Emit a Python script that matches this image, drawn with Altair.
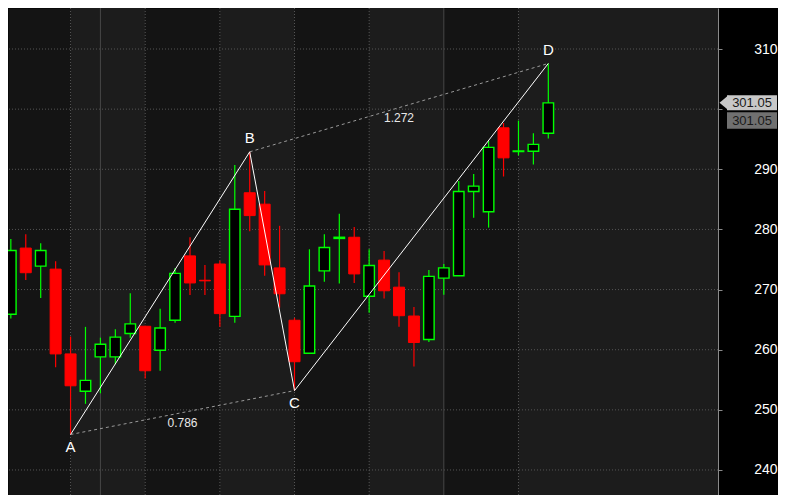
import altair as alt
import pandas as pd

# ---------------- data ----------------
idx = list(range(1, 38))
opens = [265.9, 276.9, 273.9, 273.4, 259.3, 253.1, 258.8, 258.8, 262.7, 263.9,
         259.9, 264.9, 275.6, 271.55, 274.25, 265.55, 286.1, 284.2, 273.6, 264.9,
         259.4, 273.1, 278.5, 278.7, 268.9, 274.9, 270.4, 265.6, 261.7, 271.9,
         272.3, 286.3, 282.95, 296.9, 292.95, 293.0, 296.0]
highs = [278.4, 279.2, 277.7, 274.7, 262.2, 263.8, 262.0, 263.4, 269.4, 264.0,
         266.8, 273.6, 278.7, 274.1, 274.8, 290.7, 292.9, 286.4, 280.6, 265.3,
         276.7, 279.2, 282.6, 280.4, 276.7, 276.4, 272.9, 267.1, 273.25, 274.25,
         288.05, 289.2, 294.75, 297.7, 298.1, 296.0, 307.6]
lows = [265.2, 271.6, 268.6, 257.1, 245.9, 251.0, 252.75, 257.6, 262.0, 255.2,
        256.5, 264.5, 269.1, 269.1, 263.8, 264.5, 279.7, 272.3, 267.0, 253.2,
        259.4, 271.3, 271.0, 271.1, 266.15, 268.5, 263.8, 257.2, 261.3, 269.15,
        272.3, 281.95, 280.3, 288.8, 292.3, 290.8, 295.1]
closes = [276.5, 272.8, 276.5, 259.3, 254.0, 254.9, 260.9, 262.1, 264.3, 256.5,
          263.6, 272.7, 271.1, 271.45, 266.0, 283.35, 282.3, 274.1, 269.3, 258.0,
          270.6, 277.0, 278.7, 272.6, 274.0, 269.8, 265.65, 261.2, 272.2, 273.6,
          286.3, 287.2, 293.65, 291.9, 293.05, 294.15, 301.05]

band_start = [5, 15, 25, 35]
band_end = [10, 20, 30, 60]
dotted_x = [5, 10, 15, 20, 25, 35]
solid_x = [7, 30]
y_ticks = [240, 250, 260, 270, 280, 290, 300, 310]
hidden_label = 300  # covered by the price tags in the reference

pt_names = ["A", "B", "C", "D"]
pt_idx = [5, 17, 20, 37]
pt_val = [245.9, 292.9, 253.2, 307.6]
ratio_pairs = [["A", "C"], ["B", "D"]]
ratio_text = ["0.786", "1.272"]
last_price = 301.05

# ---------------- tables ----------------
candles = pd.DataFrame({"i": idx, "o": opens, "h": highs, "l": lows, "c": closes})
candles["dir"] = ["up" if c >= o else "down" for o, c in zip(opens, closes)]

bands = pd.DataFrame({"s": band_start, "e": band_end})
dots = pd.DataFrame({"x": dotted_x})
solids = pd.DataFrame({"x": solid_x})
hgrid = pd.DataFrame({"v": y_ticks})

pts = pd.DataFrame({"name": pt_names, "i": pt_idx, "v": pt_val, "k": list(range(4))})
pos = {n: (i, v) for n, i, v in zip(pt_names, pt_idx, pt_val)}
dash_rows, ratio_rows = [], []
for (a, b), t in zip(ratio_pairs, ratio_text):
    for n in (a, b):
        dash_rows.append({"pair": a + b, "i": pos[n][0], "v": pos[n][1]})
    ratio_rows.append({"t": t, "i": (pos[a][0] + pos[b][0]) / 2, "v": (pos[a][1] + pos[b][1]) / 2})
dashes = pd.DataFrame(dash_rows)
ratios = pd.DataFrame(ratio_rows)
tag = pd.DataFrame({"v": [last_price], "t": [f"{last_price:.2f}"]})

# ---------------- scales ----------------
xs = alt.Scale(domain=[1.145, 48.03], nice=False, zero=False)
ys = alt.Scale(domain=[235.84, 316.82], nice=False, zero=False)
FONT = "Liberation Sans"

yaxis = alt.Axis(orient="right", values=y_ticks, grid=False, domainColor="#8a8a8a",
                 tickColor="#8a8a8a", tickSize=4, labelColor="#ffffff", labelFontSize=14,
                 labelFont=FONT, labelAlign="right", labelPadding=55, labelBaseline="middle",
                 labelExpr=f"datum.value == {hidden_label} ? '' : datum.label",
                 title=None, labelOverlap=False, labelBound=False)


def X(f):
    return alt.X(f"{f}:Q", scale=xs, axis=None)


def Y(f):
    return alt.Y(f"{f}:Q", scale=ys, axis=yaxis, title=None)


band_layer = alt.Chart(bands).mark_rect(color="#1c1c1c", clip=True).encode(x=X("s"), x2="e")
hgrid_layer = alt.Chart(hgrid).mark_rule(color="#555555", strokeDash=[1, 2], strokeWidth=1).encode(
    y=Y("v"))
dot_layer = alt.Chart(dots).mark_rule(color="#555555", strokeDash=[1, 2], strokeWidth=1).encode(x=X("x"))
solid_layer = alt.Chart(solids).mark_rule(color="#474747", strokeWidth=1).encode(x=X("x"))

wicks = alt.Chart(candles).mark_rule(strokeWidth=1.2, clip=True).encode(
    x=X("i"), y=Y("l"), y2="h",
    color=alt.Color("dir:N", scale=alt.Scale(domain=["up", "down"], range=["#00ff00", "#ff0000"]),
                    legend=None))
up_bodies = alt.Chart(candles).transform_filter("datum.dir == 'up'").mark_bar(
    size=10.5, fill="#000000", stroke="#00ff00", strokeWidth=1.4, clip=True).encode(
    x=X("i"), y=Y("o"), y2="c")
down_bodies = alt.Chart(candles).transform_filter("datum.dir == 'down'").mark_bar(
    size=11, fill="#ff0000", stroke="#ff0000", strokeWidth=1, clip=True).encode(
    x=X("i"), y=Y("o"), y2="c")

dash_layer = alt.Chart(dashes).mark_line(color="#9a9a9a", strokeDash=[3, 3], strokeWidth=1).encode(
    x=X("i"), y=Y("v"), detail="pair:N")
abcd_layer = alt.Chart(pts).mark_line(color="#ffffff", strokeWidth=1).encode(
    x=X("i"), y=Y("v"), order="k:Q")
lab_below = alt.Chart(pts).transform_filter("datum.name == 'A' || datum.name == 'C'").mark_text(
    color="#ffffff", fontSize=15, font=FONT, dy=12.5, baseline="middle", align="center").encode(
    x=X("i"), y=Y("v"), text="name:N")
lab_above = alt.Chart(pts).transform_filter("datum.name == 'B' || datum.name == 'D'").mark_text(
    color="#ffffff", fontSize=15, font=FONT, dy=-13.5, baseline="middle", align="center").encode(
    x=X("i"), y=Y("v"), text="name:N")
ratio_layer = alt.Chart(ratios).mark_text(color="#e8e8e8", fontSize=12, font=FONT, dy=10,
                                          baseline="middle", align="center").encode(
    x=X("i"), y=Y("v"), text="t:N")

tag1 = alt.Chart(tag).mark_rect(color="#c8c8c8", yOffset=-7.5, y2Offset=7.5).encode(
    x=alt.value(719), x2=alt.value(769), y=Y("v"), y2="v")
arrow = alt.Chart(tag).mark_point(shape="M 0.6 -1 L -0.6 0 L 0.6 1 Z", size=225, filled=True,
                                  color="#c8c8c8", opacity=1).encode(x=alt.value(716), y=Y("v"))
tag1_text = alt.Chart(tag).mark_text(color="#1a1a1a", fontSize=13, font=FONT, align="center",
                                     baseline="middle").encode(x=alt.value(744), y=Y("v"), text="t:N")
tag2 = alt.Chart(tag).mark_rect(color="#707070", yOffset=9.5, y2Offset=26).encode(
    x=alt.value(719), x2=alt.value(769), y=Y("v"), y2="v")
tag2_text = alt.Chart(tag).mark_text(color="#1a1a1a", fontSize=13, font=FONT, align="center",
                                     baseline="middle", dy=18).encode(x=alt.value(744), y=Y("v"), text="t:N")

chart = alt.layer(
    band_layer, hgrid_layer, dot_layer, solid_layer, wicks, up_bodies, down_bodies,
    dash_layer, abcd_layer, lab_below, lab_above, ratio_layer,
    tag1, arrow, tag1_text, tag2, tag2_text,
).properties(
    width=710, height=487,
    autosize=alt.AutoSizeParams(type="none"),
    padding={"left": 0, "top": 0, "right": 60, "bottom": 0},
    background="#000000",
).configure_view(fill="#141414", stroke="transparent")

chart.save("out.html", embed_options={"renderer": "svg", "actions": False})
